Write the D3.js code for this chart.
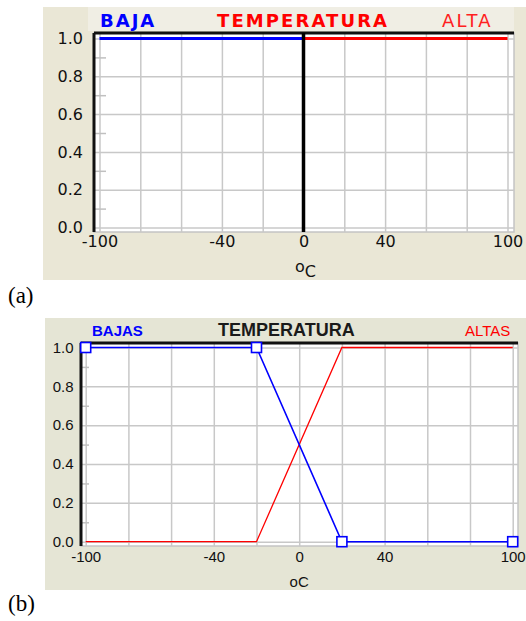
<!DOCTYPE html>
<html>
<head>
<meta charset="utf-8">
<script src="https://cdn.jsdelivr.net/npm/d3@7"></script>
<style>
  body { margin: 0; background: #fff; }
  svg { display: block; }
</style>
</head>
<body>
<svg id="canvas" width="526" height="621"></svg>
<script>
// ticks shared by both charts
var xTicks = [-100, -40, 0, 40, 100];
var xGrid = [-100, -80, -60, -40, -20, 0, 20, 40, 60, 80, 100];
var yTicks = [0, 0.2, 0.4, 0.6, 0.8, 1.0];
var yMinor = [0.1, 0.3, 0.5, 0.7, 0.9];

// (a) crisp sets
var bajaX = [-100, 0];
var bajaY = [1, 1];
var altaX = [0, 100];
var altaY = [1, 1];
var corteX = 0;

// (b) fuzzy sets
var bajasX = [-100, -20, 20, 100];
var bajasY = [1, 1, 0, 0];
var altasX = [-100, -20, 20, 100];
var altasY = [0, 0, 1, 1];

function drawPanel(svg, p) {
    "use strict";

    var g = svg.append('g');

    g.append('rect')
        .attr('x', p.bg[0]).attr('y', p.bg[1])
        .attr('width', p.bg[2]).attr('height', p.bg[3])
        .attr('fill', p.bgColor);
    if (p.titleBox) {
        g.append('rect')
            .attr('x', p.titleBox[0]).attr('y', p.titleBox[1])
            .attr('width', p.titleBox[2]).attr('height', p.titleBox[3])
            .attr('fill', '#F0EEE4');
    }

    // white plot area + frame
    g.append('rect')
        .attr('x', p.frame.l).attr('y', p.frame.t)
        .attr('width', p.frame.r - p.frame.l).attr('height', p.frame.b - p.frame.t)
        .attr('fill', '#fff')
        .attr('stroke', '#c4c4c4').attr('stroke-width', 1.5);

    var x = d3.scaleLinear().domain([-100, 100]).range(p.xr);
    var y = d3.scaleLinear().domain([0, 1]).range(p.yr);

    // grid
    g.append('g')
        .attr('transform', 'translate(0,' + p.frame.b + ')')
        .call(d3.axisBottom(x).tickValues(xGrid).tickSize(-(p.frame.b - p.frame.t)).tickFormat(''))
        .call(function(a) { a.select('.domain').remove(); })
        .selectAll('line').attr('stroke', '#c8c8c8').attr('stroke-width', 1.5);
    g.append('g')
        .attr('transform', 'translate(' + p.frame.r + ',0)')
        .call(d3.axisLeft(y).tickValues(yTicks).tickSize(p.frame.r - p.frame.l).tickFormat(''))
        .call(function(a) { a.select('.domain').remove(); })
        .selectAll('line').attr('stroke', '#c8c8c8').attr('stroke-width', 1.5);
    // small ticks on the left wall
    g.append('g')
        .attr('transform', 'translate(' + p.frame.l + ',0)')
        .call(d3.axisRight(y).tickValues(yMinor).tickSize(p.minor).tickFormat(''))
        .call(function(a) { a.select('.domain').remove(); })
        .selectAll('line').attr('stroke', '#c0c0c0').attr('stroke-width', 1.5);

    // tick labels
    var yAx = g.append('g')
        .attr('transform', 'translate(' + p.frame.l + ',0)')
        .call(d3.axisLeft(y).tickValues(yTicks).tickSize(0).tickPadding(p.frame.l - p.yLabRight).tickFormat(d3.format('.1f')));
    yAx.select('.domain').remove();
    yAx.selectAll('text').attr('fill', '#111')
        .style('font-family', p.font).style('font-size', p.tickSize + 'px');

    var xAx = g.append('g')
        .attr('transform', 'translate(0,' + p.frame.b + ')')
        .call(d3.axisBottom(x).tickValues(xTicks).tickSize(0).tickPadding(p.xLabPad)
            .tickFormat(function(d) { return String(d); }));   // plain hyphen, like the original
    xAx.select('.domain').remove();
    xAx.selectAll('text').attr('fill', '#111')
        .style('font-family', p.font).style('font-size', p.tickSize + 'px');

    // black left wall and top
    g.append('line')
        .attr('x1', p.frame.l).attr('x2', p.frame.r)
        .attr('y1', p.frame.t).attr('y2', p.frame.t)
        .attr('stroke', '#111').attr('stroke-width', 3);
    g.append('line')
        .attr('x1', p.frame.l).attr('x2', p.frame.l)
        .attr('y1', p.frame.t).attr('y2', p.frame.b)
        .attr('stroke', '#111').attr('stroke-width', 3);

    // unit label
    var u = g.append('text')
        .attr('x', x(0) + p.unitDx).attr('y', p.unitY)
        .attr('text-anchor', 'middle')
        .attr('fill', '#111')
        .style('font-family', p.font).style('font-size', p.tickSize + 'px');
    if (p.unitRaised) {
        u.append('tspan').attr('dy', -5).text('o');
        u.append('tspan').attr('dy', 5).text('C');
    } else {
        u.text('oC');
    }

    // titles
    p.titles.forEach(function(t) {
        g.append('text')
            .attr('x', t.x).attr('y', p.titleY)
            .attr('fill', t.color)
            .attr('font-weight', t.bold ? 'bold' : 'normal')
            .style('font-family', p.titleFont)
            .style('font-size', t.size + 'px')
            .style('letter-spacing', (t.ls || 0) + 'px')
            .text(t.text);
    });

    // panel tag
    g.append('text')
        .attr('x', 8).attr('y', p.tagY)
        .style('font-family', '"Liberation Serif", serif')
        .style('font-size', '23px')
        .attr('fill', '#000')
        .text(p.tag);

    return { g: g, x: x, y: y };
}

var svg = d3.select(document.getElementById('canvas'));

// ---------- (a) ----------
var A = drawPanel(svg, {
    bg: [43, 7, 483, 273], bgColor: '#EAE7D6', titleBox: [88, 7, 426, 24],
    frame: { l: 94, r: 514, t: 33, b: 232 },
    xr: [99.5, 507.5], yr: [227.5, 38.5], minor: 12,
    font: '"DejaVu Sans", sans-serif', tickSize: 16,
    yLabRight: 83, xLabPad: 4, unitY: 277, unitDx: 2, unitRaised: true,
    titleFont: '"DejaVu Sans", sans-serif', titleY: 27,
    titles: [
        { text: 'BAJA', x: 100, color: '#0000ff', bold: true, size: 18, ls: 2 },
        { text: 'TEMPERATURA', x: 217, color: '#ff0000', bold: true, size: 18, ls: 2.1 },
        { text: 'ALTA', x: 442, color: '#ff2020', bold: false, size: 18, ls: 2.3 }
    ],
    tag: '(a)', tagY: 303
});

var lineA = d3.line().x(function(d) { return A.x(d[0]); }).y(function(d) { return A.y(d[1]); });
A.g.append('path')
    .datum(d3.zip(bajaX, bajaY))
    .attr('d', lineA).attr('fill', 'none')
    .attr('stroke', '#0000ff').attr('stroke-width', 3);
A.g.append('path')
    .datum(d3.zip(altaX, altaY))
    .attr('d', lineA).attr('fill', 'none')
    .attr('stroke', '#ff0000').attr('stroke-width', 3);
A.g.append('line')
    .attr('x1', A.x(corteX)).attr('x2', A.x(corteX))
    .attr('y1', 33).attr('y2', 232)
    .attr('stroke', '#000').attr('stroke-width', 3.5);

// ---------- (b) ----------
var B = drawPanel(svg, {
    bg: [45, 318, 481, 272], bgColor: '#E5E5D5', titleBox: null,
    frame: { l: 81, r: 518, t: 343, b: 546 },
    xr: [85.7, 512.7], yr: [541.7, 347.5], minor: 8,
    font: '"Liberation Sans", Arial, sans-serif', tickSize: 15,
    yLabRight: 73.5, xLabPad: 5, unitY: 587, unitDx: 0, unitRaised: false,
    titleFont: '"Liberation Sans", Arial, sans-serif', titleY: 336,
    titles: [
        { text: 'BAJAS', x: 92, color: '#0000ff', bold: true, size: 15 },
        { text: 'TEMPERATURA', x: 218, color: '#1a1a1a', bold: true, size: 18 },
        { text: 'ALTAS', x: 465, color: '#ff0000', bold: false, size: 15 }
    ],
    tag: '(b)', tagY: 611
});

var lineB = d3.line().x(function(d) { return B.x(d[0]); }).y(function(d) { return B.y(d[1]); });
B.g.append('path')
    .datum(d3.zip(altasX, altasY))
    .attr('d', lineB).attr('fill', 'none')
    .attr('stroke', '#ff0000').attr('stroke-width', 1.3);
B.g.append('path')
    .datum(d3.zip(bajasX, bajasY))
    .attr('d', lineB).attr('fill', 'none')
    .attr('stroke', '#0000ff').attr('stroke-width', 1.6);
B.g.selectAll('rect.pt')
    .data(d3.zip(bajasX, bajasY))
    .enter().append('rect')
    .attr('class', 'pt')
    .attr('x', function(d) { return B.x(d[0]) - 5; })
    .attr('y', function(d) { return B.y(d[1]) - 5; })
    .attr('width', 10).attr('height', 10)
    .attr('fill', '#fff')
    .attr('stroke', '#0000ff').attr('stroke-width', 1.6);
</script>
</body>
</html>
